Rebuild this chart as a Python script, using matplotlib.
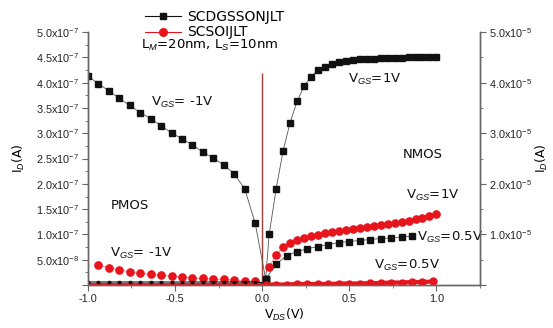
import matplotlib
matplotlib.use("Agg")
import matplotlib.pyplot as plt
from matplotlib.lines import Line2D
from matplotlib.ticker import MultipleLocator, FuncFormatter

plt.rcParams['font.family'] = ['DejaVu Sans']
plt.rcParams['mathtext.fontset'] = 'custom'
plt.rcParams['mathtext.rm'] = 'Liberation Sans'
plt.rcParams['mathtext.it'] = 'Liberation Sans:italic'
plt.rcParams['mathtext.bf'] = 'Liberation Sans:bold'

# PMOS sweep (left axis, units of 1e-7 A)
pmos_vds = [-1.0, -0.94, -0.88, -0.82, -0.76, -0.70, -0.64, -0.58, -0.52,
            -0.46, -0.40, -0.34, -0.28, -0.22, -0.16, -0.10, -0.04, 0.02]
dg_p_vgs1 = [4.13, 3.98, 3.84, 3.69, 3.55, 3.41, 3.29, 3.15, 3.01,
             2.89, 2.77, 2.63, 2.51, 2.37, 2.20, 1.90, 1.22, 0.12]
dg_p_vgs05 = [0.06, 0.06, 0.06, 0.06, 0.06, 0.06, 0.06, 0.06, 0.06,
              0.06, 0.06, 0.06, 0.06, 0.06, 0.06, 0.06, 0.06, 0.04]
soi_p_vgs05 = [0.0, 0.0, 0.0, 0.0, 0.0, 0.0, 0.0, 0.0, 0.0,
               0.0, 0.0, 0.0, 0.0, 0.0, 0.0, 0.0, 0.0, 0.0]
soi_p_vds = [-0.94, -0.88, -0.82, -0.76, -0.70, -0.64, -0.58, -0.52,
             -0.46, -0.40, -0.34, -0.28, -0.22, -0.16, -0.10, -0.04]
soi_p_vgs1 = [0.40, 0.34, 0.30, 0.26, 0.23, 0.21, 0.19, 0.18,
              0.16, 0.14, 0.13, 0.12, 0.11, 0.09, 0.08, 0.07]

# NMOS sweep (right axis, units of 1e-5 A)
dg_n_vds1 = [0.02, 0.04, 0.08, 0.12, 0.16, 0.20, 0.24, 0.28, 0.32, 0.36, 0.40,
             0.44, 0.48, 0.52, 0.56, 0.60, 0.64, 0.68, 0.72, 0.76, 0.80, 0.84,
             0.88, 0.92, 0.96, 1.00]
dg_n_vgs1 = [0.12, 1.00, 1.90, 2.65, 3.21, 3.63, 3.93, 4.12, 4.25, 4.31, 4.37,
             4.41, 4.43, 4.45, 4.46, 4.47, 4.47, 4.48, 4.48, 4.49, 4.49, 4.50,
             4.50, 4.50, 4.51, 4.51]
dg_n_vds05 = [0.02, 0.08, 0.14, 0.20, 0.26, 0.32, 0.38, 0.44, 0.50, 0.56,
              0.62, 0.68, 0.74, 0.80, 0.86]
dg_n_vgs05 = [0.12, 0.41, 0.58, 0.66, 0.72, 0.76, 0.80, 0.84, 0.86, 0.88,
              0.90, 0.92, 0.93, 0.95, 0.97]
soi_n_vds1 = [0.04, 0.08, 0.12, 0.16, 0.20, 0.24, 0.28, 0.32, 0.36, 0.40,
              0.44, 0.48, 0.52, 0.56, 0.60, 0.64, 0.68, 0.72, 0.76, 0.80,
              0.84, 0.88, 0.92, 0.96, 1.00]
soi_n_vgs1 = [0.36, 0.60, 0.75, 0.84, 0.89, 0.93, 0.96, 0.99, 1.02, 1.04,
              1.06, 1.08, 1.10, 1.12, 1.14, 1.16, 1.18, 1.20, 1.23, 1.25,
              1.27, 1.30, 1.33, 1.36, 1.40]
soi_n_vds05 = [0.02, 0.08, 0.14, 0.20, 0.26, 0.32, 0.38, 0.44, 0.50, 0.56,
               0.62, 0.68, 0.74, 0.80, 0.86, 0.92, 0.98]
soi_n_vgs05 = [0.01, 0.01, 0.01, 0.02, 0.02, 0.02, 0.02, 0.03, 0.03, 0.03,
               0.04, 0.04, 0.05, 0.05, 0.06, 0.06, 0.07]

sweep_join_top = 4.2  # 1e-7 A

BLACK = '#111111'
RED = '#e8141c'
LINE_K = '#555555'
LINE_R = '#f08080'

fig = plt.figure(figsize=(5.53, 3.28), dpi=100)
ax = fig.add_axes([0.159, 0.131, 0.709, 0.771])
ax2 = ax.twinx()

p = 1e-7
n = 1e-5
sq = dict(marker='s', ms=4.3, mfc=BLACK, mec=BLACK)
ci = dict(marker='o', ms=5.2, mfc=RED, mec=RED)

ax.vlines(0.0, 0, sweep_join_top * p, color='#a84038', lw=1.0, zorder=2)
ax.plot(pmos_vds, [v * p for v in dg_p_vgs1], lw=0.6, color=LINE_K, **sq)
ax.plot(soi_p_vds, [v * p for v in soi_p_vgs1], lw=0.6, color=LINE_R, **ci)
ax.plot(pmos_vds, [v * p for v in soi_p_vgs05], lw=3.5, color=RED,
        marker='o', ms=4.5, mfc=RED, mec=RED, zorder=3)
ax.plot(pmos_vds, [v * p for v in dg_p_vgs05], lw=0.8, marker='s', ms=2.0,
        color=BLACK, zorder=4)

ax2.plot(dg_n_vds1, [v * n for v in dg_n_vgs1], lw=0.6, color=LINE_K, **sq)
ax2.plot(dg_n_vds05, [v * n for v in dg_n_vgs05], lw=0.6, color=LINE_K, **sq)
ax2.plot(soi_n_vds1, [v * n for v in soi_n_vgs1], lw=0.6, color=LINE_R, **ci)
ax2.plot(soi_n_vds05, [v * n for v in soi_n_vgs05], lw=3.0, color=RED,
         marker='o', ms=5, mfc=RED, mec=RED)

ax.set_xlim(-1.0, 1.25)
ax.set_ylim(0, 5e-7)
ax2.set_ylim(0, 5e-5)

for a in (ax, ax2):
    a.spines['top'].set_visible(False)
    for s in a.spines.values():
        s.set_color('#666666')
        s.set_linewidth(1.0)
    a.tick_params(which='both', direction='out', color='#666666',
                  labelsize=7.8, labelcolor='#222222',
                  labelfontfamily='Liberation Sans')
    a.tick_params(which='major', length=4, pad=2.5)
    a.tick_params(which='minor', length=2.5)

ax.set_xticks([-1.0, -0.5, 0.0, 0.5, 1.0])
ax.xaxis.set_minor_locator(MultipleLocator(0.25))
ax.xaxis.set_major_formatter(FuncFormatter(lambda v, _: f'{v:.1f}'))

ax.yaxis.set_major_locator(MultipleLocator(0.5e-7))
ax.yaxis.set_minor_locator(MultipleLocator(0.25e-7))


def sci_left(v, _):
    if abs(v) < 1e-12:
        return ''
    if v < 0.99e-7:
        return f'{v / 1e-8:.1f}x10$^{{-8}}$'
    return f'{v / 1e-7:.1f}x10$^{{-7}}$'


def sci_right(v, _):
    if abs(v) < 1e-12:
        return ''
    return f'{v / 1e-5:.1f}x10$^{{-5}}$'


ax.yaxis.set_major_formatter(FuncFormatter(sci_left))
ax2.yaxis.set_major_locator(MultipleLocator(1e-5))
ax2.yaxis.set_minor_locator(MultipleLocator(0.5e-5))
ax2.yaxis.set_major_formatter(FuncFormatter(sci_right))

ax.set_xlabel('V$_{DS}$(V)', fontsize=9, labelpad=2)
ax.set_ylabel('I$_D$(A)', fontsize=9, labelpad=6)
ax2.set_ylabel('I$_D$(A)', fontsize=9, labelpad=1)

txt = dict(fontsize=9.5, color='#111111', ha='center', va='center')
ax.text(-0.457, 3.61 * p, 'V$_{GS}$= -1V', **txt)
ax.text(0.646, 4.07 * p, 'V$_{GS}$=1V', **txt)
ax.text(0.92, 2.58 * p, 'NMOS', **txt)
ax.text(-0.76, 1.57 * p, 'PMOS', **txt)
ax.text(0.977, 1.77 * p, 'V$_{GS}$=1V', **txt)
ax.text(0.886, 0.95 * p, 'V$_{GS}$=0.5V', **{**txt, 'ha': 'left'})
ax.text(0.829, 0.38 * p, 'V$_{GS}$=0.5V', **txt)
ax.text(-0.697, 0.63 * p, 'V$_{GS}$= -1V', **txt)

handles = [Line2D([], [], color=BLACK, lw=0.8, marker='s', ms=5),
           Line2D([], [], color=RED, lw=0.8, marker='o', ms=5.5)]
ax.legend(handles, ['SCDGSSONJLT', 'SCSOIJLT'], loc='upper left',
          bbox_to_anchor=(0.245, 1.0), bbox_transform=fig.transFigure,
          frameon=False, fontsize=10, handlelength=2.6, handletextpad=0.4,
          labelspacing=0.12, borderpad=0.2)
fig.text(0.255, 0.86, 'L$_M$=20nm, L$_S$=10nm', fontsize=9.5, va='center')

fig.savefig('out.png', dpi=100)
